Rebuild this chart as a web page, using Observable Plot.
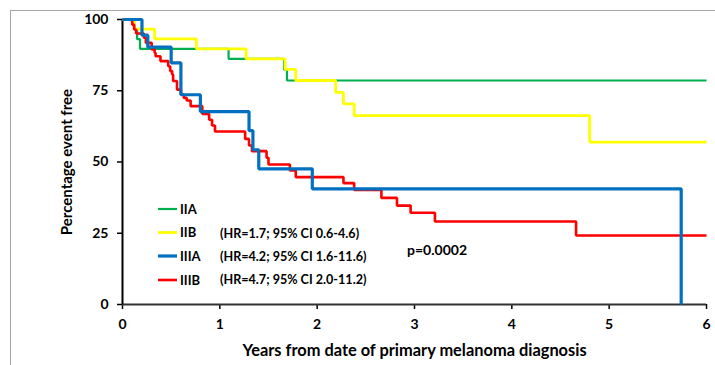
<!DOCTYPE html>
<html><head><meta charset="utf-8">
<script src="https://cdn.jsdelivr.net/npm/d3@7"></script>
<script src="https://cdn.jsdelivr.net/npm/@observablehq/plot@0.6"></script>
<style>
body{margin:0;background:#fff;}
#wrap{position:relative;width:715px;height:365px;overflow:hidden;background:#fff;}
#frame{position:absolute;left:10px;top:10px;width:800px;height:500px;border-top:1.5px solid #a6a6a6;border-left:1.5px solid #a6a6a6;}
#wrap svg{position:absolute;left:0;top:0;}
</style></head><body><div id="wrap"><div id="frame"></div></div>
<script>
// ---- data ----
const groups = ["IIA", "IIB", "IIIA", "IIIB"];
const colors = ["#00B050", "#FFFF00", "#0070C0", "#FF0000"];
const widths = [2.2, 2.8, 3.2, 2.6];
const hrLabels = ["", "(HR=1.7; 95% CI 0.6-4.6)", "(HR=4.2; 95% CI 1.6-11.6)", "(HR=4.7; 95% CI 2.0-11.2)"];
const pLabel = "p=0.0002";
const xTitle = "Years from date of primary melanoma diagnosis";
const yTitle = "Percentage event free";
const xTicks = [0, 1, 2, 3, 4, 5, 6];
const yTicks = [0, 25, 50, 75, 100];

const iiaYears = [0, 0.12, 0.15, 0.18, 1.09, 1.66, 1.69, 6.0];
const iiaSurv  = [100, 96.6, 93.1, 89.7, 86.2, 82.4, 78.6, 78.6];

const iibYears = [0, 0.12, 0.33, 0.76, 1.27, 1.67, 1.78, 2.19, 2.27, 2.38, 4.80, 6.0];
const iibSurv  = [100, 96.6, 93.2, 89.7, 86.2, 82.5, 78.6, 74.4, 70.4, 66.3, 57.0, 57.0];

const iiiaYears = [0, 0.20, 0.26, 0.50, 0.60, 0.80, 1.30, 1.34, 1.40, 1.95, 5.74, 5.74];
const iiiaSurv  = [100, 94.5, 90.3, 84.8, 73.6, 67.7, 61.0, 54.3, 47.6, 40.6, 40.6, 0];

const iiibYears = [0, 0.10, 0.12, 0.14, 0.22, 0.24, 0.30, 0.33, 0.34, 0.39, 0.47, 0.49, 0.51, 0.52, 0.56, 0.60, 0.63, 0.66, 0.70,
                   0.82, 0.89, 0.92, 0.95, 1.26, 1.30, 1.33, 1.48, 1.50, 1.72, 1.78, 2.27, 2.38, 2.66, 2.82, 2.96, 3.21, 4.66, 6.0];
const iiibSurv  = [100, 98.2, 96.5, 95.1, 93.6, 91.8, 89.5, 88.3, 87.1, 85.4, 83.6, 81.9, 80.7, 78.4, 75.4, 73.7, 72.5, 71.6, 69.6,
                   66.9, 64.8, 62.8, 60.7, 58.1, 55.8, 53.8, 51.5, 49.1, 47.0, 44.7, 42.6, 40.2, 37.4, 34.7, 32.2, 29.1, 24.2, 24.2];

const series = [
  [iiaYears, iiaSurv],
  [iibYears, iibSurv],
  [iiiaYears, iiiaSurv],
  [iiibYears, iiibSurv]
];
const rows = series.map(([xs, ys], i) => xs.map((t, j) => ({group: groups[i], t, s: ys[j]})));

// draw order: green, yellow, red, blue
const order = [0, 1, 3, 2];
const font = "Lato, 'Open Sans', sans-serif";

const chart = Plot.plot({
  width: 715, height: 365,
  marginLeft: 122, marginRight: 9, marginTop: 19, marginBottom: 61,
  style: {fontFamily: font, background: "transparent", color: "#000"},
  x: {domain: [0, 6]},
  y: {domain: [0, 100]},
  marks: [
    Plot.axisY(yTicks, {tickSize: 5, tickPadding: 9, fontSize: 14, fontWeight: "bold", label: null, color: "#000", strokeWidth: 1.5}),
    Plot.axisX(xTicks, {tickSize: 5, tickPadding: 10, fontSize: 14, fontWeight: "bold", label: null, color: "#000", strokeWidth: 1.5}),
    Plot.ruleY([0], {stroke: "#333", strokeWidth: 2}),
    Plot.ruleX([0], {stroke: "#000", strokeWidth: 2}),
    ...order.map(i => Plot.line(rows[i], {x: "t", y: "s", curve: "step-after", stroke: colors[i], strokeWidth: widths[i], strokeLinejoin: "miter", strokeLinecap: "butt"})),
    Plot.text([xTitle], {frameAnchor: "bottom", dy: 51, fontSize: 16.4, fontWeight: "bold"}),
    Plot.text([yTitle], {frameAnchor: "left", textAnchor: "middle", dx: -55, rotate: -90, fontSize: 15, fontWeight: "bold"})
  ]
});

const wrap = document.getElementById("wrap");
wrap.appendChild(chart);

// legend & annotations (layout overlay)
const svg = d3.select(chart);
const legY = [209, 232.5, 256, 280];
const hrY = [0, 234, 257, 280];
const g = svg.append("g").attr("font-family", font).attr("font-weight", "bold").attr("text-anchor", "start");
groups.forEach((name, i) => {
  g.append("line").attr("x1", 158).attr("x2", 177).attr("y1", legY[i]).attr("y2", legY[i])
    .attr("stroke", colors[i]).attr("stroke-width", widths[i]);
  g.append("text").attr("x", 180).attr("y", legY[i]).attr("dy", "0.35em").attr("font-size", 13).text(name);
  if (hrLabels[i]) g.append("text").attr("x", 220).attr("y", hrY[i]).attr("dy", "0.35em").attr("font-size", 12.6).text(hrLabels[i]);
});
g.append("text").attr("x", 407).attr("y", 250).attr("dy", "0.35em").attr("font-size", 14).text(pLabel);
</script>
</body></html>
